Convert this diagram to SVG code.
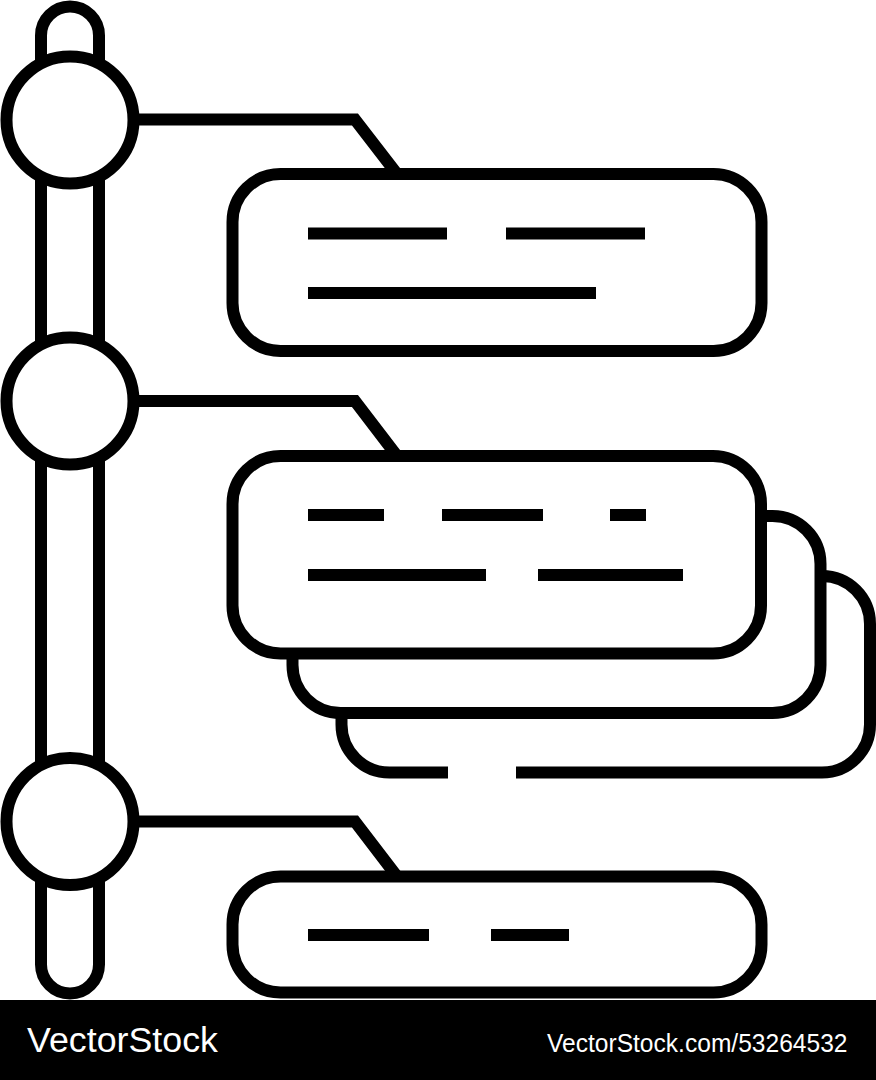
<svg xmlns="http://www.w3.org/2000/svg" width="876" height="1080" viewBox="0 0 876 1080">
  <style>
    .sh { fill: #fff; stroke: #000; stroke-width: 12; }
    .ln { fill: none; stroke: #000; stroke-width: 12; stroke-linecap: butt; stroke-linejoin: miter; }
    .wm { fill: #fff; font-family: "Liberation Sans", Arial, sans-serif; }
  </style>
  <rect width="876" height="1080" fill="#fff"/>

  <g id="timeline-bar">
    <rect class="sh" x="41" y="6.5" width="58" height="987" rx="29" ry="29"/>
  </g>

  <g id="connectors">
    <path class="ln" d="M 133 119.5 H 355 L 397 174"/>
    <path class="ln" d="M 133 401 H 355 L 397 456"/>
    <path class="ln" d="M 133 821.5 H 355 L 397 876.5"/>
  </g>

  <g id="node-circle-1"><circle class="sh" cx="70" cy="120" r="63.5"/></g>
  <g id="node-circle-2"><circle class="sh" cx="70" cy="401" r="63.5"/></g>
  <g id="node-circle-3"><circle class="sh" cx="70" cy="821.5" r="63.5"/></g>

  <g id="node-box-1">
    <rect class="sh" x="232.5" y="174" width="529" height="177" rx="48" ry="48"/>
    <path class="ln" d="M 308 233.5 H 447 M 506 233.5 H 645 M 308 293 H 596"/>
  </g>

  <g id="node-box-2-stack">
    <path class="sh" d="M 516 772.5 H 822 A 48 48 0 0 0 870 724.5 V 624 A 48 48 0 0 0 822 576 H 389.5 A 48 48 0 0 0 341.5 624 V 724.5 A 48 48 0 0 0 389.5 772.5 H 448"/>
    <rect class="sh" x="292.5" y="516" width="528" height="197" rx="48" ry="48"/>
    <rect class="sh" x="232.5" y="456" width="528.5" height="197.5" rx="48" ry="48"/>
    <path class="ln" d="M 308 515 H 384 M 442 515 H 543 M 610 515 H 646 M 308 575 H 486 M 538 575 H 683"/>
  </g>

  <g id="node-box-3">
    <rect class="sh" x="232.5" y="876.5" width="529" height="116" rx="48" ry="48"/>
    <path class="ln" d="M 308 935 H 429 M 491 935 H 569"/>
  </g>

  <g id="banner">
    <rect x="0" y="1000" width="876" height="80" fill="#000"/>
    <text class="wm" x="27" y="1052" font-size="35.5" textLength="191" lengthAdjust="spacingAndGlyphs">VectorStock</text>
    <text class="wm" x="547" y="1051.5" font-size="25" textLength="300.5" lengthAdjust="spacingAndGlyphs">VectorStock.com/53264532</text>
  </g>
</svg>
